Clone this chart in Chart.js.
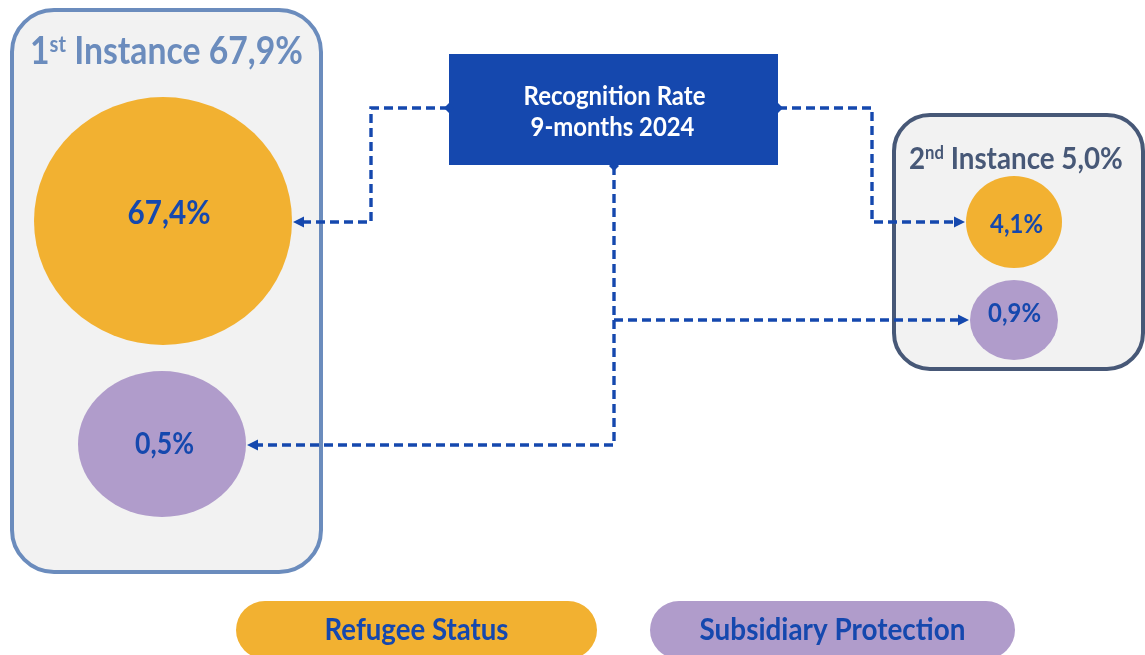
<!DOCTYPE html>
<html>
<head>
<meta charset="utf-8">
<title>Recognition Rate 9-months 2024</title>
<script src="https://cdn.jsdelivr.net/npm/chart.js@4.4.1/dist/chart.umd.min.js"></script>
<style>
	html, body { margin: 0; padding: 0; background: #ffffff; }
	#grafico { display: block; }
</style>
</head>
<body>
<canvas id="grafico" width="1145" height="655"></canvas>
<script>
// values
const categories = ["Refugee Status", "Subsidiary Protection"];
const instances = ["1st Instance", "2nd Instance"];
const instanceTotals = [67.9, 5.0];
const refugeeValues = [67.4, 4.1];
const subsidiaryValues = [0.5, 0.9];
const headline = ["Recognition Rate", "9-months 2024"];

const FONT = "Lato, 'Open Sans', sans-serif";
const WEIGHT = 700;
const CAP = 0.72; // Lato cap height / em
const TALL = 1.12; // Lato is wider than the deck font, so stretch it a bit upwards
const colors = {
	refugee: "#f2b131",
	subsidiary: "#b09ccb",
	blue: "#1548ae",
	panel: "#f2f2f2",
};

// where things sit on the 1145 x 655 page (tx/ty text centre, tw text width)
const spots = [
	// refugee bubble, 1st then 2nd instance
	[{ x: 163, y: 221, rx: 129, ry: 124, tx: 169, ty: 212.5, tw: 83 },
	 { x: 1014, y: 222, rx: 48, ry: 46, tx: 1016.5, ty: 223, tw: 53 }],
	// subsidiary bubble
	[{ x: 162, y: 444, rx: 84, ry: 73, tx: 164.5, ty: 443.5, tw: 59 },
	 { x: 1014, y: 320, rx: 44, ry: 40, tx: 1014.5, ty: 312.5, tw: 53 }],
];
const panels = [
	{ x: 12, y: 10, w: 309, h: 562, r: 42, color: "#6b8cbd", tx: 166.5, ty: 50.5, tw: 273 },
	{ x: 894, y: 115, w: 249, h: 254, r: 36, color: "#475877", tx: 1016, ty: 158, tw: 214 },
];
const headBox = { x: 449, y: 54, w: 329, h: 111,
	lines: [{ x: 614.5, y: 95, w: 182 }, { x: 612.5, y: 126, w: 164 }] };
const pills = [
	{ x: 236, y: 601, w: 361, h: 58, ty: 628.5, tw: 184 },
	{ x: 650, y: 601, w: 365, h: 58, ty: 628.5, tw: 266 },
];
// dashed links from the headline box, the last point gets the arrow
const links = [
	{ start: true, pts: [[449, 108], [371, 108], [371, 222], [293, 222]] },
	{ start: true, pts: [[778, 108], [872, 108], [872, 222], [965, 222]] },
	{ start: true, pts: [[614, 166], [614, 445], [247, 445]] },
	{ start: false, pts: [[614, 320], [969, 320]] },
];

const fmt = (v) => v.toFixed(1).replace(".", ",") + "%";

function ellipse(rx, ry, color) {
	const c = document.createElement("canvas");
	c.width = rx * 2;
	c.height = ry * 2;
	const g = c.getContext("2d");
	g.fillStyle = color;
	g.beginPath();
	g.ellipse(rx, ry, rx, ry, 0, 0, Math.PI * 2);
	g.fill();
	return c;
}

// font size that makes the text as wide as w
function sizeFor(ctx, text, w) {
	ctx.font = `${WEIGHT} 100px ${FONT}`;
	return (100 * w) / ctx.measureText(text).width;
}

// text centred on x, with y at the middle of the capitals
function textAt(ctx, text, x, y, w, color) {
	const size = sizeFor(ctx, text, w);
	ctx.save();
	ctx.font = `${WEIGHT} ${size}px ${FONT}`;
	ctx.fillStyle = color;
	ctx.textAlign = "center";
	ctx.textBaseline = "alphabetic";
	ctx.translate(x, y);
	ctx.scale(1, TALL);
	ctx.fillText(text, 0, (size * CAP) / 2);
	ctx.restore();
}

// "1st Instance 67,9%" with the ordinal suffix raised
function titleAt(ctx, text, x, y, w, color) {
	const m = text.match(/^(\d+)(st|nd|rd|th)(.*)$/);
	const parts = [m[1], m[2], m[3]];
	const scale = [1, 0.6, 1];
	const lift = [0, 0.33, 0];
	const width = (s) =>
		parts.reduce((acc, p, i) => {
			ctx.font = `${WEIGHT} ${s * scale[i]}px ${FONT}`;
			return acc + ctx.measureText(p).width;
		}, 0);
	const size = (100 * w) / width(100);
	ctx.save();
	ctx.fillStyle = color;
	ctx.textAlign = "left";
	ctx.textBaseline = "alphabetic";
	ctx.translate(x - w / 2, y);
	ctx.scale(1, TALL);
	let cx = 0;
	parts.forEach((p, i) => {
		ctx.font = `${WEIGHT} ${size * scale[i]}px ${FONT}`;
		ctx.fillText(p, cx, (size * CAP) / 2 - lift[i] * size);
		cx += ctx.measureText(p).width;
	});
	ctx.restore();
}

function roundBox(ctx, x, y, w, h, r) {
	ctx.beginPath();
	ctx.roundRect(x, y, w, h, r);
}

const diagram = {
	id: "diagram",
	beforeDatasetsDraw(chart) {
		const ctx = chart.ctx;
		const px = (v) => chart.scales.x.getPixelForValue(v);
		const py = (v) => chart.scales.y.getPixelForValue(v);
		ctx.save();
		panels.forEach((p, i) => {
			roundBox(ctx, px(p.x), py(p.y), p.w, p.h, p.r);
			ctx.fillStyle = colors.panel;
			ctx.fill();
			ctx.lineWidth = 4;
			ctx.strokeStyle = p.color;
			ctx.stroke();
			titleAt(ctx, instances[i] + " " + fmt(instanceTotals[i]), px(p.tx), py(p.ty), p.tw, p.color);
		});
		ctx.restore();
	},
	afterDatasetsDraw(chart) {
		const ctx = chart.ctx;
		const px = (v) => chart.scales.x.getPixelForValue(v);
		const py = (v) => chart.scales.y.getPixelForValue(v);
		ctx.save();

		// values inside the bubbles
		chart.data.datasets.forEach((ds, i) => {
			chart.getDatasetMeta(i).data.forEach((el, j) => {
				const s = spots[i][j];
				textAt(ctx, fmt(ds.data[j].v), el.x + (s.tx - s.x), el.y + (s.ty - s.y), s.tw, colors.blue);
			});
		});

		// headline box
		ctx.fillStyle = colors.blue;
		ctx.fillRect(px(headBox.x), py(headBox.y), headBox.w, headBox.h);
		headBox.lines.forEach((l, i) => {
			textAt(ctx, headline[i], px(l.x), py(l.y), l.w, "#ffffff");
		});

		// links
		ctx.strokeStyle = colors.blue;
		ctx.fillStyle = colors.blue;
		ctx.lineWidth = 3.4;
		links.forEach((link) => {
			const pts = link.pts.map((p) => [px(p[0]), py(p[1])]);
			const n = pts.length;
			const [ex, ey] = pts[n - 1];
			const [bx, by] = pts[n - 2];
			const len = Math.hypot(ex - bx, ey - by);
			const ux = (ex - bx) / len;
			const uy = (ey - by) / len;
			ctx.setLineDash([9, 5]);
			ctx.beginPath();
			ctx.moveTo(pts[0][0], pts[0][1]);
			for (let k = 1; k < n - 1; k++) ctx.lineTo(pts[k][0], pts[k][1]);
			ctx.lineTo(ex - ux * 9, ey - uy * 9);
			ctx.stroke();
			ctx.setLineDash([]);
			// arrow head
			ctx.beginPath();
			ctx.moveTo(ex, ey);
			ctx.lineTo(ex - ux * 11 - uy * 5.5, ey - uy * 11 + ux * 5.5);
			ctx.lineTo(ex - ux * 11 + uy * 5.5, ey - uy * 11 - ux * 5.5);
			ctx.closePath();
			ctx.fill();
			// small diamond where the link leaves the box
			if (link.start) {
				const [sx, sy] = pts[0];
				ctx.beginPath();
				ctx.moveTo(sx - 5, sy);
				ctx.lineTo(sx, sy - 5);
				ctx.lineTo(sx + 5, sy);
				ctx.lineTo(sx, sy + 5);
				ctx.closePath();
				ctx.fill();
			}
		});

		// legend pills
		pills.forEach((p, i) => {
			roundBox(ctx, px(p.x), py(p.y), p.w, p.h, p.h / 2);
			ctx.fillStyle = i === 0 ? colors.refugee : colors.subsidiary;
			ctx.fill();
			textAt(ctx, categories[i], px(p.x + p.w / 2), py(p.ty), p.tw, colors.blue);
		});
		ctx.restore();
	},
};

const series = [refugeeValues, subsidiaryValues];
const fills = [colors.refugee, colors.subsidiary];

new Chart(document.querySelector("#grafico"), {
	type: "bubble",
	data: {
		datasets: categories.map((cat, i) => ({
			label: cat,
			data: series[i].map((v, j) => ({
				x: spots[i][j].x,
				y: spots[i][j].y,
				r: Math.max(spots[i][j].rx, spots[i][j].ry),
				v: v,
			})),
			pointStyle: spots[i].map((s) => ellipse(s.rx, s.ry, fills[i])),
			backgroundColor: fills[i],
			borderWidth: 0,
			clip: false,
		})),
	},
	options: {
		responsive: false,
		animation: false,
		events: [],
		layout: { padding: 0, autoPadding: false },
		scales: {
			x: { type: "linear", min: 0, max: 1145, display: false },
			y: { type: "linear", min: 0, max: 655, reverse: true, display: false },
		},
		plugins: {
			legend: { display: false },
			tooltip: { enabled: false },
		},
	},
	plugins: [diagram],
});
</script>
</body>
</html>
